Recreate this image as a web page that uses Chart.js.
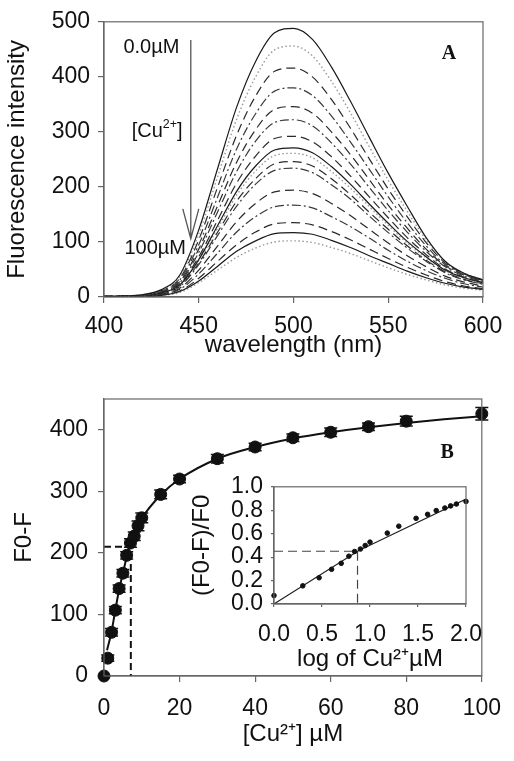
<!DOCTYPE html>
<html>
<head>
<meta charset="utf-8">
<title>Cu2+ quenching</title>
<script src="https://cdn.jsdelivr.net/npm/chart.js@4.4.1/dist/chart.umd.min.js"></script>
<style>
  body { margin: 0; background: #fff; }
  #wrap { position: relative; width: 514px; height: 761px; }
  canvas { position: absolute; }
</style>
</head>
<body>
<div id="wrap">
  <canvas id="chartA" width="514" height="370" style="left:0;top:0"></canvas>
  <canvas id="chartB" width="514" height="391" style="left:0;top:370px"></canvas>
  <canvas id="inset" width="344" height="220" style="left:170px;top:465px"></canvas>
</div>
<script>
// ---- panel A: emission spectra, 0 -> 100 uM Cu2+ ----
const wavelengths = [400, 410, 420, 430, 440, 450, 460, 470, 480, 490, 500, 510, 520, 530, 540, 550, 560, 570, 580, 590, 600];
const spec01 = [1, 2, 4, 13, 40, 122, 234, 345, 428, 480, 488, 468, 418, 356, 290, 225, 165, 108, 65, 43, 31];
const spec02 = [1, 2, 4, 12, 37, 114, 219, 323, 400, 449, 456, 438, 392, 335, 273, 212, 156, 104, 64, 43, 31];
const spec03 = [1, 2, 3, 11, 34, 104, 200, 294, 365, 410, 416, 400, 359, 307, 251, 196, 146, 99, 62, 42, 30];
const spec04 = [1, 2, 3, 10, 31, 95, 182, 269, 333, 374, 380, 366, 329, 282, 232, 182, 135, 93, 59, 41, 30];
const spec05 = [1, 1, 3, 9, 28, 87, 166, 245, 304, 341, 346, 334, 300, 259, 213, 167, 125, 87, 57, 40, 29];
const spec06 = [1, 1, 3, 9, 26, 81, 155, 228, 283, 317, 322, 311, 280, 242, 199, 157, 118, 83, 55, 38, 28];
const spec07 = [1, 1, 2, 8, 24, 73, 140, 207, 256, 288, 292, 282, 255, 220, 182, 144, 108, 77, 51, 36, 27];
const spec08 = [1, 1, 2, 7, 22, 68, 130, 192, 238, 267, 271, 262, 237, 205, 169, 134, 101, 73, 49, 35, 26];
const spec09 = [1, 1, 2, 7, 21, 66, 125, 185, 229, 257, 261, 253, 228, 198, 164, 130, 98, 71, 48, 34, 25];
const spec10 = [0, 1, 2, 7, 20, 62, 118, 174, 215, 242, 246, 238, 215, 186, 154, 123, 93, 67, 46, 32, 24];
const spec11 = [0, 1, 2, 6, 19, 59, 112, 165, 205, 230, 234, 226, 204, 178, 147, 117, 89, 65, 44, 31, 23];
const spec12 = [0, 1, 2, 5, 16, 49, 93, 137, 170, 191, 194, 188, 170, 148, 123, 98, 75, 55, 38, 27, 20];
const spec13 = [0, 1, 1, 5, 14, 42, 80, 118, 146, 164, 167, 162, 146, 128, 107, 85, 65, 48, 34, 24, 18];
const spec14 = [0, 1, 1, 4, 11, 34, 65, 95, 118, 133, 135, 131, 119, 104, 87, 70, 54, 40, 28, 20, 15];
const spec15 = [0, 0, 1, 3, 10, 29, 56, 83, 102, 115, 117, 114, 103, 90, 75, 61, 47, 35, 25, 18, 14];
const spec16 = [0, 0, 1, 3, 8, 26, 49, 72, 89, 100, 102, 99, 90, 79, 66, 53, 41, 31, 22, 16, 12];
const spectra = [spec01, spec02, spec03, spec04, spec05, spec06, spec07, spec08,
                 spec09, spec10, spec11, spec12, spec13, spec14, spec15, spec16];
const specStyle = ['solid', 'dot', 'dash', 'dashdot', 'dash', 'dashdot', 'dash', 'solid',
                   'dot', 'dash', 'dashdot', 'dash', 'dashdot', 'dash', 'solid', 'dot'];

// ---- panel B: F0-F vs [Cu2+] ----
const conc = [0, 1, 2, 3, 4, 5, 6, 7, 8, 9, 10, 15, 20, 30, 40, 50, 60, 70, 80, 100];
const f0f = [0, 29, 71, 107, 142, 167, 196, 216, 227, 244, 257, 295, 320, 353, 372, 387, 396, 405, 414, 426];
const f0fErr = [0, 5, 6, 6, 6, 6, 6, 7, 7, 8, 8, 7, 6, 7, 6, 6, 7, 6, 8, 10];
const fitConc = [0.8, 2, 3, 4, 5, 6, 7, 8, 9, 10, 15, 20, 30, 40, 50, 60, 70, 80, 90, 100];
const fitF0f = [42, 72, 107, 140, 167, 193, 214, 230, 244, 256, 294, 320, 353, 372, 386, 396, 404, 411, 417, 422];
const halfConc = [0, 7.1, 7.1];
const halfF0f = [210, 210, 0];

// ---- inset: (F0-F)/F0 vs log[Cu2+] ----
const logConc = [0, 0.30, 0.47, 0.60, 0.70, 0.78, 0.84, 0.90, 0.95, 1.00, 1.18, 1.30, 1.48, 1.60, 1.69, 1.78, 1.84, 1.90, 2.00];
const quenchRatio = [0.072, 0.155, 0.224, 0.296, 0.347, 0.408, 0.448, 0.469, 0.499, 0.528, 0.605, 0.664, 0.731, 0.765, 0.797, 0.819, 0.837, 0.853, 0.875];
const fitLog = [0, 0.88, 2.0];
const fitRatio = [0, 0.455, 0.895];
const halfLog = [0, 0.87, 0.87];
const halfRatio = [0.45, 0.45, 0];

const FONT = 'Liberation Sans, Arial, Helvetica, sans-serif';
Chart.defaults.font.family = FONT;
Chart.defaults.color = '#111';

const pts = (xs, ys) => xs.map((x, i) => ({ x: x, y: ys[i] }));

const dashes = {
  solid: { dash: [], color: '#1a1a1a' },
  dot: { dash: [1.5, 2.5], color: '#999' },
  dash: { dash: [9, 5], color: '#2a2a2a' },
  dashdot: { dash: [9, 3, 2, 3], color: '#3a3a3a' }
};

function makeAxis(o) {
  return {
    type: 'linear',
    min: o.min, max: o.max,
    afterFit: s => { if (o.width) s.width = o.width; if (o.height) s.height = o.height; },
    ticks: {
      stepSize: o.step, padding: o.tickPad, includeBounds: false, maxRotation: 0, autoSkip: false,
      font: { size: 23 }, color: '#111',
      callback: o.fmt || (v => v)
    },
    grid: { drawOnChartArea: false, tickLength: o.tickLen, color: '#666', lineWidth: 1.2 },
    border: { color: '#666', width: 1.2 },
    title: { display: true, text: o.title, font: { size: 24 }, color: '#111', padding: o.titlePad }
  };
}

const frame = {
  id: 'frame',
  afterDraw(chart) {
    const { ctx, chartArea: a } = chart;
    ctx.save();
    ctx.strokeStyle = '#666';
    ctx.lineWidth = 1.2;
    ctx.strokeRect(a.left, a.top, a.right - a.left, a.bottom - a.top);
    ctx.restore();
  }
};

function supText(ctx, parts, cx, cy, size) {
  // parts: [text, isSuperscript]
  let w = 0;
  parts.forEach(p => { ctx.font = (p[1] ? size * 0.62 : size) + 'px ' + FONT; w += ctx.measureText(p[0]).width; });
  let x = cx - w / 2;
  ctx.textAlign = 'left';
  parts.forEach(p => {
    ctx.font = (p[1] ? size * 0.62 : size) + 'px ' + FONT;
    ctx.fillText(p[0], x, p[1] ? cy - size * 0.38 : cy);
    x += ctx.measureText(p[0]).width;
  });
}

const annotateA = {
  id: 'annotateA',
  afterDraw(chart) {
    const { ctx, scales: { x, y } } = chart;
    ctx.save();
    ctx.fillStyle = '#111';
    ctx.textBaseline = 'middle';
    ctx.textAlign = 'center';
    ctx.font = '20px ' + FONT;
    ctx.fillText('0.0µM', x.getPixelForValue(425), y.getPixelForValue(453));
    ctx.fillText('100µM', x.getPixelForValue(427), y.getPixelForValue(88));
    supText(ctx, [['[Cu', false], ['2+', true], [']', false]], x.getPixelForValue(428), y.getPixelForValue(300), 20);
    // arrow
    const ax = x.getPixelForValue(445.8);
    const top = y.getPixelForValue(467), tip = y.getPixelForValue(106), base = y.getPixelForValue(160);
    ctx.strokeStyle = '#555';
    ctx.lineWidth = 1.3;
    ctx.beginPath();
    ctx.moveTo(ax, top); ctx.lineTo(ax, tip);
    ctx.moveTo(ax - 8, base); ctx.lineTo(ax, tip); ctx.lineTo(ax + 8, base);
    ctx.stroke();
    ctx.font = 'bold 20px Liberation Serif, Times New Roman, serif';
    ctx.textAlign = 'center';
    ctx.fillText('A', x.getPixelForValue(582), y.getPixelForValue(442));
    ctx.restore();
  }
};

new Chart(document.getElementById('chartA'), {
  type: 'line',
  data: {
    datasets: spectra.map((s, i) => ({
      data: pts(wavelengths, s),
      borderColor: dashes[specStyle[i]].color,
      borderDash: dashes[specStyle[i]].dash,
      borderWidth: specStyle[i] === 'dot' ? 1.4 : 1.2,
      pointRadius: 0,
      cubicInterpolationMode: 'monotone',
      fill: false
    }))
  },
  options: {
    responsive: false,
    animation: false,
    layout: { padding: { top: 19, right: 31, left: 0, bottom: 0 } },
    plugins: { legend: { display: false }, tooltip: { enabled: false } },
    scales: {
      x: makeAxis({ min: 400, max: 600, step: 50, height: 73, tickLen: 6, tickPad: 10,
                    title: 'wavelength (nm)', titlePad: { top: 0, bottom: 10 } }),
      y: makeAxis({ min: 0, max: 500, step: 100, width: 104, tickLen: 6, tickPad: 8,
                    title: 'Fluorescence intensity', titlePad: { top: 3, bottom: 0 } })
    }
  },
  plugins: [frame, annotateA]
});

const errorBars = {
  id: 'errorBars',
  afterDatasetsDraw(chart) {
    const { ctx, scales: { x, y } } = chart;
    ctx.save();
    ctx.strokeStyle = '#111';
    ctx.lineWidth = 1.5;
    conc.forEach((c, i) => {
      if (!f0fErr[i]) return;
      const px = x.getPixelForValue(c);
      const hi = y.getPixelForValue(f0f[i] + f0fErr[i]);
      const lo = y.getPixelForValue(f0f[i] - f0fErr[i]);
      ctx.beginPath();
      ctx.moveTo(px, hi); ctx.lineTo(px, lo);
      ctx.moveTo(px - 6.5, hi); ctx.lineTo(px + 6.5, hi);
      ctx.moveTo(px - 6.5, lo); ctx.lineTo(px + 6.5, lo);
      ctx.stroke();
    });
    ctx.font = 'bold 20px Liberation Serif, Times New Roman, serif';
    ctx.fillStyle = '#111';
    ctx.textAlign = 'center';
    ctx.textBaseline = 'middle';
    ctx.fillText('B', x.getPixelForValue(90.8), y.getPixelForValue(362));
    ctx.restore();
  }
};

new Chart(document.getElementById('chartB'), {
  type: 'scatter',
  data: {
    datasets: [
      { data: pts(conc, f0f), pointRadius: 6, pointBackgroundColor: '#111', pointBorderColor: '#111',
        showLine: false, clip: false, order: 0 },
      { data: pts(fitConc, fitF0f), showLine: true, borderColor: '#111', borderWidth: 2,
        cubicInterpolationMode: 'monotone', pointRadius: 0, order: 1 },
      { data: pts(halfConc, halfF0f), showLine: true, borderColor: '#111', borderWidth: 2,
        borderDash: [7, 4], pointRadius: 0, order: 2 }
    ]
  },
  options: {
    responsive: false,
    animation: false,
    layout: { padding: { top: 29, right: 31, left: 0, bottom: 0 } },
    plugins: { legend: { display: false }, tooltip: { enabled: false } },
    scales: {
      x: makeAxis({ min: 0, max: 100, step: 20, height: 85, tickLen: 6, tickPad: 13,
                    title: '[Cu²⁺] µM', titlePad: { top: 0, bottom: 12 } }),
      y: makeAxis({ min: 0, max: 450, step: 100, width: 104, tickLen: 6, tickPad: 10,
                    title: 'F0-F', titlePad: { top: 10, bottom: 0 } })
    }
  },
  plugins: [frame, errorBars]
});

new Chart(document.getElementById('inset'), {
  type: 'scatter',
  data: {
    datasets: [
      { data: pts(logConc, quenchRatio), pointRadius: 2.3, pointBackgroundColor: '#111',
        pointBorderColor: '#111', showLine: false, clip: false },
      { data: pts(fitLog, fitRatio), showLine: true, borderColor: '#222', borderWidth: 1.1, pointRadius: 0 },
      { data: pts(halfLog, halfRatio), showLine: true, borderColor: '#444', borderWidth: 1.2,
        borderDash: [9, 5], pointRadius: 0 }
    ]
  },
  options: {
    responsive: false,
    animation: false,
    layout: { padding: { top: 13, right: 48, left: 0, bottom: 0 } },
    plugins: { legend: { display: false }, tooltip: { enabled: false } },
    scales: {
      x: makeAxis({ min: 0, max: 2, step: 0.5, height: 81, tickLen: 3, tickPad: 14,
                    fmt: v => v.toFixed(1),
                    title: 'log of Cu²⁺µM', titlePad: { top: 0, bottom: 11 } }),
      y: makeAxis({ min: 0, max: 1, step: 0.2, width: 104, tickLen: 3, tickPad: 8,
                    fmt: v => v.toFixed(1),
                    title: '(F0-F)/F0', titlePad: { top: 18, bottom: 0 } })
    }
  },
  plugins: [frame]
});
</script>
</body>
</html>
